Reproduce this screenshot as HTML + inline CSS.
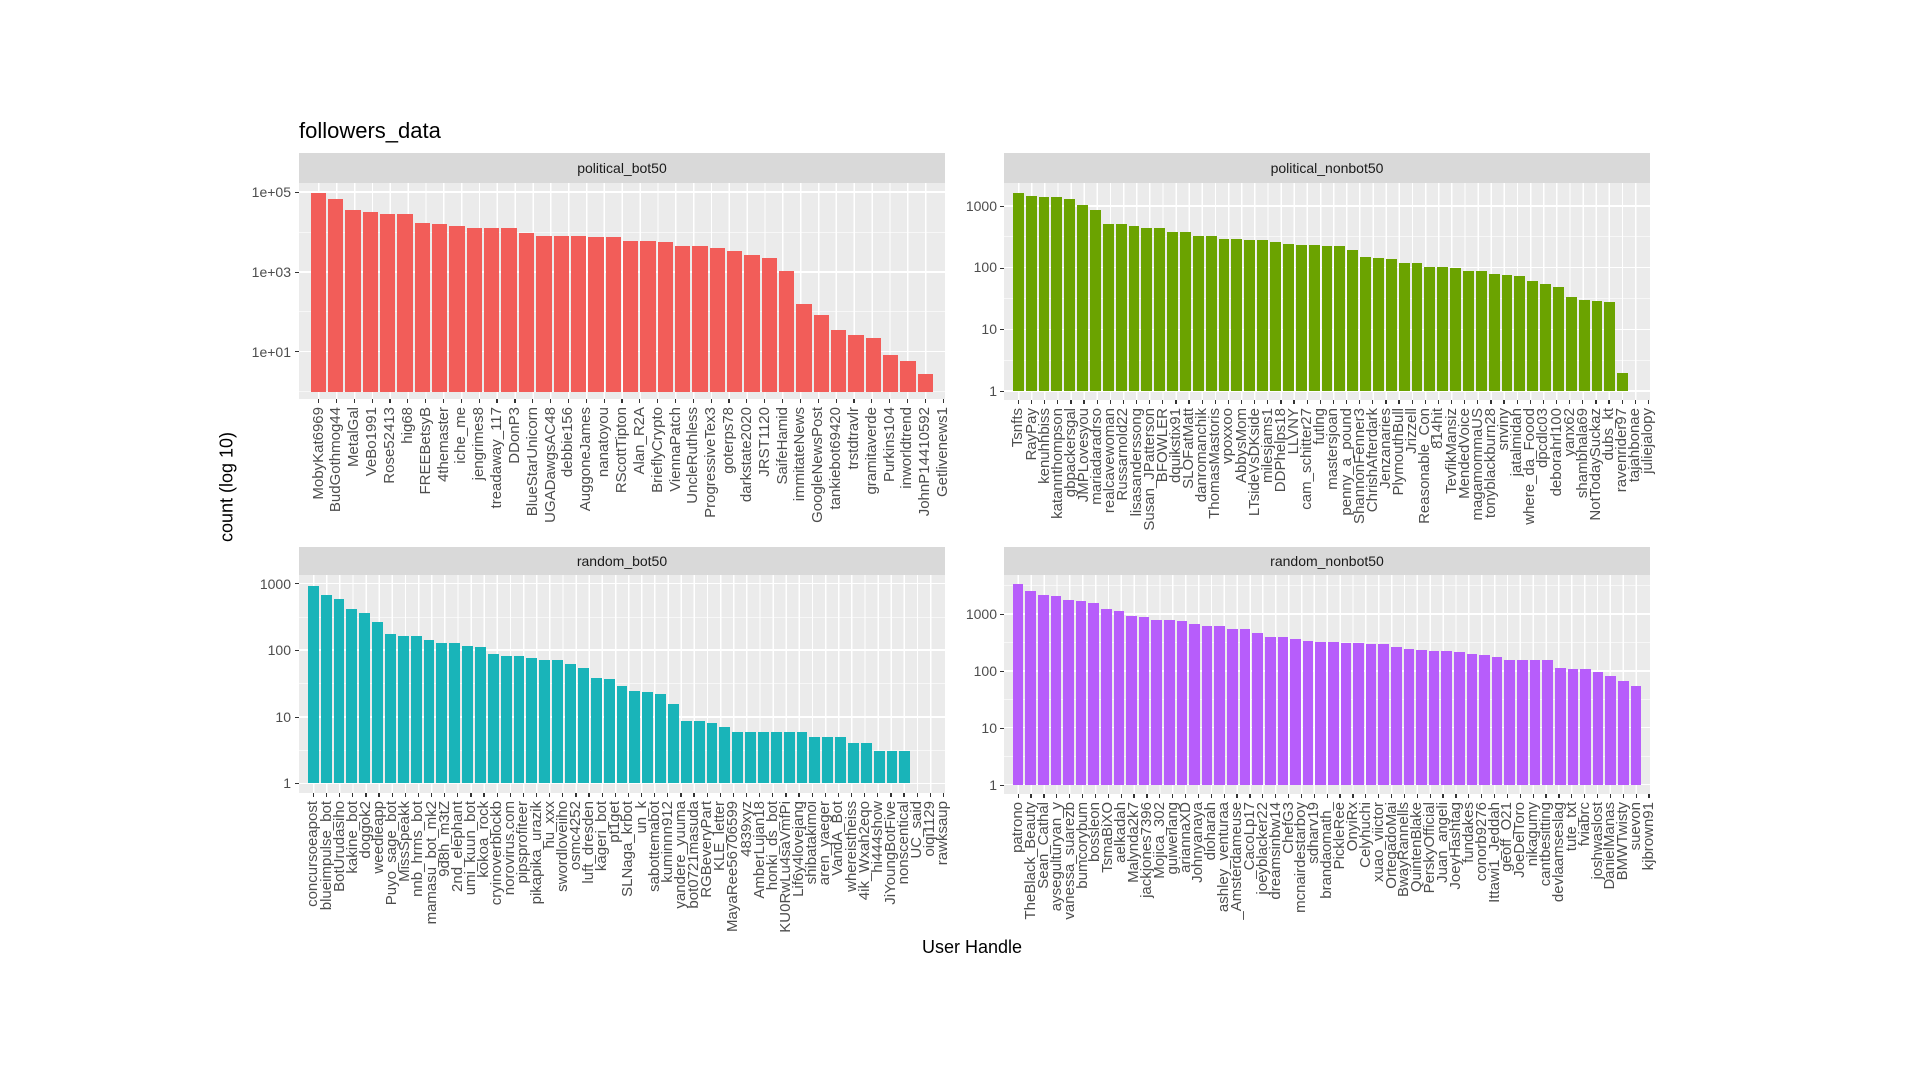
<!DOCTYPE html>
<html><head><meta charset="utf-8">
<style>
*{margin:0;padding:0;box-sizing:border-box}
body{width:1920px;height:1080px;background:#fff;position:relative;overflow:hidden;font-family:"Liberation Sans",Arial,sans-serif;color:#4d4d4d}
.abs{position:absolute}
.title{left:299px;top:118px;font-size:22px;color:#000}
.strip{position:absolute;background:#d9d9d9;color:#1a1a1a;font-size:14px;text-align:center}
.plot{position:absolute;background:#ebebeb;overflow:hidden}
.hmaj{position:absolute;left:0;right:0;height:1.6px;background:#fff;margin-top:-0.8px}
.hmin{position:absolute;left:0;right:0;height:0.8px;background:#f7f7f7;margin-top:-0.4px}
.vg{position:absolute;top:0;bottom:0;background:repeating-linear-gradient(90deg,transparent 0,transparent calc(var(--u)/2 - 0.7px),#fff calc(var(--u)/2 - 0.7px),#fff calc(var(--u)/2 + 0.7px),transparent calc(var(--u)/2 + 0.7px),transparent var(--u))}
.bars{position:absolute;top:0;display:flex;align-items:flex-end}
.bars i{flex:1;height:calc(var(--v)*var(--k));background:var(--c);border-left:var(--g) solid transparent;border-right:var(--g) solid transparent;background-clip:padding-box}
.yl{position:absolute;font-size:14px;text-align:right;width:60px;line-height:14px}
.yt{position:absolute;width:4px;height:1.2px;background:#333}
.lab{position:absolute;display:flex}
.lab p{flex:1;display:flex;flex-direction:column;align-items:center;min-width:0}
.lab p::before{content:"";display:block;width:1.2px;height:4px;background:#333;margin-bottom:4px}
.lab span{writing-mode:vertical-rl;transform:rotate(180deg);font-size:15px;line-height:14px;white-space:nowrap}
.axt{font-size:18px;color:#000}
</style></head><body>
<div class="abs title">followers_data</div>
<div class="abs axt" style="left:922px;top:937px;">User Handle</div>
<div class="abs axt" style="left:227px;top:487px;transform:translate(-50%,-50%) rotate(-90deg);white-space:nowrap">count (log 10)</div>

<!-- TL -->
<div class="strip" style="left:299px;top:153px;width:646px;height:30px;line-height:30px">political_bot50</div>
<div class="plot" style="left:299px;top:183px;width:646px;height:216px;--u:17.845px;--k:39.9px;--c:#F25D59;--g:0.9px">
<div class="hmin" style="top:208.5px"></div><div class="hmin" style="top:128.7px"></div><div class="hmin" style="top:48.9px"></div>
<div class="hmaj" style="top:168.6px"></div><div class="hmaj" style="top:88.8px"></div><div class="hmaj" style="top:9px"></div>
<div class="vg" style="left:10.71px;right:10.71px"></div>
<div class="bars" style="left:10.71px;right:10.71px;bottom:7.5px">
<i style="--v:4.98"></i><i style="--v:4.82"></i><i style="--v:4.54"></i><i style="--v:4.49"></i><i style="--v:4.44"></i><i style="--v:4.44"></i><i style="--v:4.23"></i><i style="--v:4.2"></i><i style="--v:4.14"></i><i style="--v:4.11"></i><i style="--v:4.11"></i><i style="--v:4.11"></i><i style="--v:3.97"></i><i style="--v:3.91"></i><i style="--v:3.91"></i><i style="--v:3.91"></i><i style="--v:3.88"></i><i style="--v:3.88"></i><i style="--v:3.78"></i><i style="--v:3.78"></i><i style="--v:3.75"></i><i style="--v:3.64"></i><i style="--v:3.64"></i><i style="--v:3.59"></i><i style="--v:3.52"></i><i style="--v:3.42"></i><i style="--v:3.35"></i><i style="--v:3.02"></i><i style="--v:2.2"></i><i style="--v:1.91"></i><i style="--v:1.55"></i><i style="--v:1.42"></i><i style="--v:1.35"></i><i style="--v:0.92"></i><i style="--v:0.76"></i><i style="--v:0.44"></i>
</div></div>
<div class="yl" style="left:231px;top:185px">1e+05</div><div class="yl" style="left:231px;top:265px">1e+03</div><div class="yl" style="left:231px;top:345px">1e+01</div>
<div class="yt" style="left:295px;top:192px"></div><div class="yt" style="left:295px;top:272px"></div><div class="yt" style="left:295px;top:351px"></div>
<div class="lab" style="left:309.71px;width:642.4px;top:399px">
<p><span>MobyKat6969</span></p><p><span>BudGothmog44</span></p><p><span>MetalGal</span></p><p><span>VeBo1991</span></p><p><span>Rose52413</span></p><p><span>hig68</span></p><p><span>FREEBetsyB</span></p><p><span>4themaster</span></p><p><span>iche_me</span></p><p><span>jengrimes8</span></p><p><span>treadaway_117</span></p><p><span>DDonP3</span></p><p><span>BlueStarUnicorn</span></p><p><span>UGADawgsAC48</span></p><p><span>debbie156</span></p><p><span>AuggoneJames</span></p><p><span>nanatoyou</span></p><p><span>RScottTipton</span></p><p><span>Alan_R2A</span></p><p><span>BrieflyCrypto</span></p><p><span>ViennaPatch</span></p><p><span>UncleRuthless</span></p><p><span>ProgressiveTex3</span></p><p><span>goterps78</span></p><p><span>darkstate2020</span></p><p><span>JRST1120</span></p><p><span>SaifeHamid</span></p><p><span>immitateNews</span></p><p><span>GoogleNewsPost</span></p><p><span>tankiebot69420</span></p><p><span>trstdtravlr</span></p><p><span>gramitaverde</span></p><p><span>Purkins104</span></p><p><span>inworldtrend</span></p><p><span>JohnP14410592</span></p><p><span>Getlivenews1</span></p>
</div>

<!-- TR -->
<div class="strip" style="left:1004px;top:153px;width:646px;height:30px;line-height:30px">political_nonbot50</div>
<div class="plot" style="left:1004px;top:183px;width:646px;height:217px;--u:13.13px;--k:61.7px;--c:#6BA300;--g:0.66px">
<div class="hmin" style="top:177.2px"></div><div class="hmin" style="top:115.5px"></div><div class="hmin" style="top:53.8px"></div>
<div class="hmaj" style="top:208px"></div><div class="hmaj" style="top:146.3px"></div><div class="hmaj" style="top:84.6px"></div><div class="hmaj" style="top:22.9px"></div>
<div class="vg" style="left:7.88px;right:7.88px"></div>
<div class="bars" style="left:7.88px;right:7.88px;bottom:9px">
<i style="--v:3.21"></i><i style="--v:3.16"></i><i style="--v:3.14"></i><i style="--v:3.14"></i><i style="--v:3.12"></i><i style="--v:3.02"></i><i style="--v:2.93"></i><i style="--v:2.70"></i><i style="--v:2.70"></i><i style="--v:2.68"></i><i style="--v:2.64"></i><i style="--v:2.64"></i><i style="--v:2.58"></i><i style="--v:2.58"></i><i style="--v:2.51"></i><i style="--v:2.51"></i><i style="--v:2.47"></i><i style="--v:2.47"></i><i style="--v:2.45"></i><i style="--v:2.45"></i><i style="--v:2.41"></i><i style="--v:2.39"></i><i style="--v:2.37"></i><i style="--v:2.37"></i><i style="--v:2.35"></i><i style="--v:2.35"></i><i style="--v:2.29"></i><i style="--v:2.18"></i><i style="--v:2.16"></i><i style="--v:2.14"></i><i style="--v:2.08"></i><i style="--v:2.08"></i><i style="--v:2.01"></i><i style="--v:2.01"></i><i style="--v:1.99"></i><i style="--v:1.94"></i><i style="--v:1.94"></i><i style="--v:1.90"></i><i style="--v:1.88"></i><i style="--v:1.86"></i><i style="--v:1.78"></i><i style="--v:1.74"></i><i style="--v:1.69"></i><i style="--v:1.53"></i><i style="--v:1.48"></i><i style="--v:1.46"></i><i style="--v:1.44"></i><i style="--v:0.29"></i><i style="--v:0"></i>
</div></div>
<div class="yl" style="left:937px;top:199px">1000</div><div class="yl" style="left:937px;top:260px">100</div><div class="yl" style="left:937px;top:322px">10</div><div class="yl" style="left:937px;top:384px">1</div>
<div class="yt" style="left:1000px;top:206px"></div><div class="yt" style="left:1000px;top:268px"></div><div class="yt" style="left:1000px;top:329px"></div><div class="yt" style="left:1000px;top:391px"></div>
<div class="lab" style="left:1011.88px;width:643.4px;top:400px">
<p><span>Tsnfts</span></p><p><span>RayPay</span></p><p><span>kenuhhbiss</span></p><p><span>katannthompson</span></p><p><span>gbpackersgal</span></p><p><span>JMPLovesyou</span></p><p><span>mariadaradrso</span></p><p><span>realcavewoman</span></p><p><span>Russarnold22</span></p><p><span>lisasanderssong</span></p><p><span>Susan_JPatterson</span></p><p><span>BFOWLER</span></p><p><span>dquikstix91</span></p><p><span>SLOFatMatt</span></p><p><span>danromanchik</span></p><p><span>ThomasMastoris</span></p><p><span>vpoxxoo</span></p><p><span>AbbysMom</span></p><p><span>LTsideVsDKside</span></p><p><span>milesjams1</span></p><p><span>DDPhelps18</span></p><p><span>LLVNY</span></p><p><span>cam_schitter27</span></p><p><span>futlng</span></p><p><span>mastersjoan</span></p><p><span>penny_a_pound</span></p><p><span>ShannonFenner3</span></p><p><span>ChrishAfterdark</span></p><p><span>Jenzanaries</span></p><p><span>PlymouthBull</span></p><p><span>Jrizzell</span></p><p><span>Reasonable_Con</span></p><p><span>814hit</span></p><p><span>TevfikMansiz</span></p><p><span>MendedVoice</span></p><p><span>magamommaUS</span></p><p><span>tonyblackburn28</span></p><p><span>snviny</span></p><p><span>jatalmidah</span></p><p><span>where_da_Foood</span></p><p><span>dpcdlc03</span></p><p><span>deborahrl100</span></p><p><span>yanx62</span></p><p><span>shambhala69</span></p><p><span>NotTodaySuckaz</span></p><p><span>dubs_kt</span></p><p><span>ravenrider97</span></p><p><span>tajahbonae</span></p><p><span>juliejalopy</span></p>
</div>

<!-- BL -->
<div class="strip" style="left:299px;top:547px;width:646px;height:28px;line-height:28px">random_bot50</div>
<div class="plot" style="left:299px;top:575px;width:646px;height:218px;--u:13.13px;--k:66.6px;--c:#19B4B9;--g:0.66px">
<div class="hmin" style="top:175.1px"></div><div class="hmin" style="top:108.5px"></div><div class="hmin" style="top:41.9px"></div>
<div class="hmaj" style="top:208.4px"></div><div class="hmaj" style="top:141.8px"></div><div class="hmaj" style="top:75.2px"></div><div class="hmaj" style="top:8.6px"></div>
<div class="vg" style="left:7.88px;right:7.88px"></div>
<div class="bars" style="left:7.88px;right:7.88px;bottom:9.6px">
<i style="--v:2.96"></i><i style="--v:2.83"></i><i style="--v:2.77"></i><i style="--v:2.62"></i><i style="--v:2.56"></i><i style="--v:2.42"></i><i style="--v:2.25"></i><i style="--v:2.22"></i><i style="--v:2.22"></i><i style="--v:2.15"></i><i style="--v:2.11"></i><i style="--v:2.11"></i><i style="--v:2.07"></i><i style="--v:2.05"></i><i style="--v:1.95"></i><i style="--v:1.91"></i><i style="--v:1.91"></i><i style="--v:1.89"></i><i style="--v:1.86"></i><i style="--v:1.86"></i><i style="--v:1.80"></i><i style="--v:1.74"></i><i style="--v:1.59"></i><i style="--v:1.57"></i><i style="--v:1.47"></i><i style="--v:1.39"></i><i style="--v:1.37"></i><i style="--v:1.35"></i><i style="--v:1.20"></i><i style="--v:0.94"></i><i style="--v:0.94"></i><i style="--v:0.91"></i><i style="--v:0.85"></i><i style="--v:0.77"></i><i style="--v:0.77"></i><i style="--v:0.77"></i><i style="--v:0.77"></i><i style="--v:0.77"></i><i style="--v:0.77"></i><i style="--v:0.69"></i><i style="--v:0.69"></i><i style="--v:0.69"></i><i style="--v:0.6"></i><i style="--v:0.6"></i><i style="--v:0.48"></i><i style="--v:0.48"></i><i style="--v:0.48"></i><i style="--v:0"></i><i style="--v:0"></i>
</div></div>
<div class="yl" style="left:231px;top:577px">1000</div><div class="yl" style="left:231px;top:643px">100</div><div class="yl" style="left:231px;top:710px">10</div><div class="yl" style="left:231px;top:776px">1</div>
<div class="yt" style="left:295px;top:583px"></div><div class="yt" style="left:295px;top:650px"></div><div class="yt" style="left:295px;top:717px"></div><div class="yt" style="left:295px;top:783px"></div>
<div class="lab" style="left:306.88px;width:643.4px;top:793px">
<p><span>concursoeapost</span></p><p><span>blueimpulse_bot</span></p><p><span>BotUrudasiho</span></p><p><span>kakine_bot</span></p><p><span>doggok2</span></p><p><span>weedieapp</span></p><p><span>Puyo_sage_bot</span></p><p><span>MissSpeakk</span></p><p><span>nnb_hrms_bot</span></p><p><span>mamasu_bot_mk2</span></p><p><span>9d8h_m3tZ</span></p><p><span>2nd_elephant</span></p><p><span>umi_kuun_bot</span></p><p><span>kokoa_rock</span></p><p><span>cryinoverblockb</span></p><p><span>norovirus.com</span></p><p><span>pipsprofiteer</span></p><p><span>pikapika_urazik</span></p><p><span>hu_xxx</span></p><p><span>swordloveiiho</span></p><p><span>osmc4252</span></p><p><span>luft_dresden</span></p><p><span>kageri_bot</span></p><p><span>pt1get</span></p><p><span>SLNaga_krbot</span></p><p><span>un_k</span></p><p><span>sabottemabot</span></p><p><span>kuminnn912</span></p><p><span>yandere_yuuma</span></p><p><span>bot0721masuda</span></p><p><span>RGBeveryPart</span></p><p><span>KLE_letter</span></p><p><span>MayaRee56706599</span></p><p><span>4839xyz</span></p><p><span>AmberLujan18</span></p><p><span>honki_ds_bot</span></p><p><span>KU0RwLu4saVmfPi</span></p><p><span>Lif6y4lovejang</span></p><p><span>shibatakimoi</span></p><p><span>aren_yaeger</span></p><p><span>VandA_Bot</span></p><p><span>whereistheiss</span></p><p><span>4ik_Wxah2eqo</span></p><p><span>hi444show</span></p><p><span>JiYoungBotFive</span></p><p><span>nonscentical</span></p><p><span>UC_said</span></p><p><span>oiqi1129</span></p><p><span>rawksaup</span></p>
</div>

<!-- BR -->
<div class="strip" style="left:1004px;top:547px;width:646px;height:28px;line-height:28px">random_nonbot50</div>
<div class="plot" style="left:1004px;top:575px;width:646px;height:219px;--u:12.869px;--k:56.9px;--c:#B75DFB;--g:0.64px">
<div class="hmin" style="top:181.2px"></div><div class="hmin" style="top:124.3px"></div><div class="hmin" style="top:67.4px"></div><div class="hmin" style="top:10.5px"></div>
<div class="hmaj" style="top:209.6px"></div><div class="hmaj" style="top:152.7px"></div><div class="hmaj" style="top:95.8px"></div><div class="hmaj" style="top:38.9px"></div>
<div class="vg" style="left:7.72px;right:7.72px"></div>
<div class="bars" style="left:7.72px;right:7.72px;bottom:9.4px">
<i style="--v:3.52"></i><i style="--v:3.41"></i><i style="--v:3.34"></i><i style="--v:3.31"></i><i style="--v:3.25"></i><i style="--v:3.22"></i><i style="--v:3.20"></i><i style="--v:3.09"></i><i style="--v:3.05"></i><i style="--v:2.97"></i><i style="--v:2.95"></i><i style="--v:2.90"></i><i style="--v:2.90"></i><i style="--v:2.88"></i><i style="--v:2.83"></i><i style="--v:2.79"></i><i style="--v:2.79"></i><i style="--v:2.74"></i><i style="--v:2.74"></i><i style="--v:2.67"></i><i style="--v:2.60"></i><i style="--v:2.60"></i><i style="--v:2.56"></i><i style="--v:2.53"></i><i style="--v:2.51"></i><i style="--v:2.51"></i><i style="--v:2.49"></i><i style="--v:2.49"></i><i style="--v:2.47"></i><i style="--v:2.47"></i><i style="--v:2.41"></i><i style="--v:2.39"></i><i style="--v:2.37"></i><i style="--v:2.34"></i><i style="--v:2.34"></i><i style="--v:2.33"></i><i style="--v:2.30"></i><i style="--v:2.28"></i><i style="--v:2.25"></i><i style="--v:2.19"></i><i style="--v:2.19"></i><i style="--v:2.19"></i><i style="--v:2.19"></i><i style="--v:2.05"></i><i style="--v:2.03"></i><i style="--v:2.03"></i><i style="--v:1.98"></i><i style="--v:1.91"></i><i style="--v:1.82"></i><i style="--v:1.73"></i>
</div></div>
<div class="yl" style="left:937px;top:607px">1000</div><div class="yl" style="left:937px;top:664px">100</div><div class="yl" style="left:937px;top:721px">10</div><div class="yl" style="left:937px;top:778px">1</div>
<div class="yt" style="left:1000px;top:614px"></div><div class="yt" style="left:1000px;top:671px"></div><div class="yt" style="left:1000px;top:728px"></div><div class="yt" style="left:1000px;top:785px"></div>
<div class="lab" style="left:1011.72px;width:643.4px;top:794px">
<p><span>patrono</span></p><p><span>TheBlack_Beauty</span></p><p><span>Sean_Cathal</span></p><p><span>aysegulturyan_y</span></p><p><span>vanessa_suarezb</span></p><p><span>bumcorybum</span></p><p><span>bossleon</span></p><p><span>TsmaBiXO</span></p><p><span>aelkadah</span></p><p><span>Malynda2k7</span></p><p><span>jackjones7396</span></p><p><span>Mojica_302</span></p><p><span>guiwerlang</span></p><p><span>ariannaXD</span></p><p><span>Johnyanaya</span></p><p><span>dioharah</span></p><p><span>ashley_venturaa</span></p><p><span>_Amsterdameuse</span></p><p><span>_CacoLp17</span></p><p><span>joeyblacker22</span></p><p><span>dreamsinbw14</span></p><p><span>ChefG3</span></p><p><span>mcnairdestarboy</span></p><p><span>sdharv19</span></p><p><span>brandaomath_</span></p><p><span>PickleRee</span></p><p><span>OnyiRx</span></p><p><span>Celyhuchi</span></p><p><span>xuao_viictor</span></p><p><span>OrtegadoMai</span></p><p><span>BwayRannells</span></p><p><span>QuintenBlake</span></p><p><span>PerskyOfficial</span></p><p><span>Juan_angeli</span></p><p><span>JoeyHashtag</span></p><p><span>fundakes</span></p><p><span>conorb9276</span></p><p><span>Ittawi1_Jeddah</span></p><p><span>geoff_O21</span></p><p><span>JoeDelToro</span></p><p><span>nikagumy</span></p><p><span>cantbesitting</span></p><p><span>devlaamseslag</span></p><p><span>tute_txt</span></p><p><span>fviabrc</span></p><p><span>joshwaslost</span></p><p><span>DanielManas</span></p><p><span>BMWTwisty</span></p><p><span>suevon</span></p><p><span>kjbrown91</span></p>
</div>
</body></html>
